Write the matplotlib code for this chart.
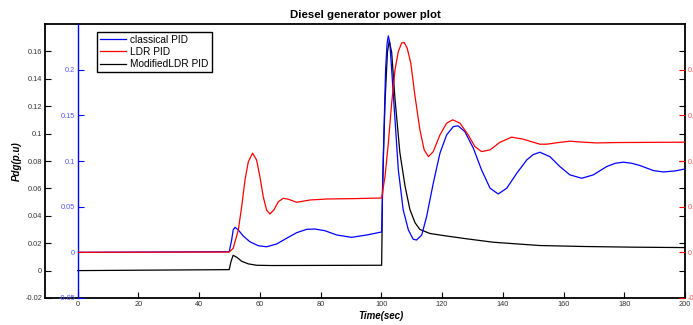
import matplotlib
matplotlib.use("Agg")
import matplotlib.pyplot as plt
from matplotlib.ticker import FuncFormatter
from matplotlib.lines import Line2D

plt.rcParams['font.family'] = ['Liberation Sans', 'DejaVu Sans']

# ---- data ----
# classical PID (blue axis)
t_classical = [0, 49.9, 50.7, 51.2, 51.8, 52.9, 54.5, 56.7, 59.5, 62.2, 65.5, 68.8, 72.1, 75.4, 78.1,
               81.4, 85.3, 90.2, 95.2, 100.1, 100.7, 101.4, 101.9, 102.3, 102.8, 103.4, 104.5, 105.6,
               107.2, 108.9, 110.5, 111.6, 113.3, 114.9, 117.1, 119.3, 121.5, 123.7, 125.3, 127.5,
               130.3, 133.0, 135.8, 138.5, 141.3, 144.6, 147.9, 150.0, 152.2, 155.5, 158.8, 162.1,
               166.0, 169.8, 174.2, 177.0, 179.7, 182.5, 185.2, 189.6, 192.9, 196.7, 200]
p_classical = [0, 0.0007, 0.0135, 0.0245, 0.0274, 0.0245, 0.0179, 0.0116, 0.0072, 0.0061, 0.0091,
               0.0154, 0.0215, 0.0252, 0.0255, 0.0237, 0.0190, 0.0164, 0.0190, 0.0223, 0.112, 0.200,
               0.229, 0.237, 0.229, 0.200, 0.145, 0.090, 0.0464, 0.0245, 0.0143, 0.0135, 0.019,
               0.039, 0.0757, 0.1086, 0.1286, 0.1377, 0.1385, 0.1322, 0.114, 0.0902, 0.0702, 0.0639,
               0.0702, 0.0866, 0.1012, 0.1070, 0.1096, 0.1048, 0.0939, 0.0848, 0.0811, 0.0848,
               0.0939, 0.0975, 0.0987, 0.0975, 0.095, 0.0895, 0.088, 0.0891, 0.0913]

# LDR PID (red axis)
t_ldr = [0, 49.9, 51.2, 52.9, 54.0, 55.1, 56.2, 57.6, 58.9, 60.0, 61.1, 62.2, 63.3, 64.6, 66.1, 67.7,
         69.4, 72.1, 76.5, 82.0, 90.8, 100.1, 101.2, 102.3, 103.4, 104.5, 105.6, 106.7, 107.5, 108.5,
         109.7, 111.1, 112.7, 114.1, 115.5, 117.1, 119.3, 121.5, 123.5, 125.9, 128.6, 130.8, 133.0,
         135.8, 139.1, 142.9, 146.7, 152.2, 154.5, 158.3, 162.1, 166.5, 170.9, 177.5, 200]
p_ldr = [0, 0.0003, 0.0044, 0.0245, 0.050, 0.0793, 0.0993, 0.1086, 0.1012, 0.0829, 0.061, 0.0464,
         0.042, 0.0464, 0.0555, 0.0592, 0.0581, 0.0548, 0.0573, 0.0584, 0.0588, 0.0595, 0.0829,
         0.1195, 0.1634, 0.200, 0.220, 0.2292, 0.2298, 0.2237, 0.2072, 0.1706, 0.1341, 0.1122,
         0.1048, 0.1103, 0.1286, 0.1414, 0.1451, 0.1414, 0.1286, 0.1158, 0.1103, 0.1122, 0.1206,
         0.1261, 0.1239, 0.1184, 0.1184, 0.1202, 0.1217, 0.1206, 0.1198, 0.1202, 0.1206]

# Modified LDR PID (black axis)
t_mod = [0, 49.9, 50.5, 51.2, 52.4, 54.0, 56.2, 58.9, 63.9, 100.1, 100.4, 101.2, 102.0, 102.6, 103.4,
         104.5, 106.1, 107.8, 109.4, 111.1, 112.7, 116.0, 120.4, 128.1, 136.9, 152.2, 166.5, 183.0, 200]
p_mod = [0, 0.0007, 0.0068, 0.0112, 0.0097, 0.0068, 0.0049, 0.0039, 0.0037, 0.0039, 0.0617, 0.1227,
         0.1593, 0.1678, 0.1593, 0.1251, 0.0861, 0.0617, 0.0446, 0.0349, 0.030, 0.0271, 0.0256,
         0.0232, 0.0207, 0.0183, 0.0176, 0.0171, 0.0168]

x_ticks = [0, 20, 40, 60, 80, 100, 120, 140, 160, 180, 200]
black_yticks = [-0.02, 0, 0.02, 0.04, 0.06, 0.08, 0.1, 0.12, 0.14, 0.16]
blue_yticks = [-0.05, 0, 0.05, 0.1, 0.15, 0.2]
red_yticks = [-0.05, 0, 0.05, 0.1, 0.15, 0.2]
series_labels = ['classical PID', 'LDR PID', 'ModifiedLDR PID']

W, H = 693, 325
fig = plt.figure(figsize=(W / 100, H / 100), dpi=100)
fig.patch.set_facecolor('white')

gfmt = FuncFormatter(lambda v, p: '%g' % round(v, 6))
TFS = 5.3

# black (main) axes
left_px, right_px, top_px, bot_px, x0_px = 45, 685, 24, 298, 77.7
ax = fig.add_axes([left_px / W, 1 - bot_px / H, (right_px - left_px) / W, (bot_px - top_px) / H])
xmin = -(x0_px - left_px) / ((right_px - x0_px) / 200.0)
ax.set_xlim(xmin, 200)
ax.set_ylim(-0.02, 0.18)
ax.plot(t_mod, p_mod, color='black', lw=0.9)
ax.set_xticks(x_ticks)
ax.set_yticks(black_yticks)
ax.xaxis.set_major_formatter(gfmt)
ax.yaxis.set_major_formatter(gfmt)
ax.tick_params(direction='in', length=4.5, width=0.8, labelsize=TFS, pad=2, colors='black',
               labelcolor='#333333', right=True, top=False)
for s in ax.spines.values():
    s.set_linewidth(1.3)

# blue axes
axb = fig.add_axes([x0_px / W, 1 - bot_px / H, (right_px - x0_px) / W, (bot_px - top_px) / H])
axb.patch.set_visible(False)
axb.set_xlim(0, 200)
axb.set_ylim(-0.05, 0.25)
axb.plot(t_classical, p_classical, color='#0000ff', lw=0.9)
for k in ['top', 'right', 'bottom']:
    axb.spines[k].set_visible(False)
axb.spines['left'].set_color('#0000ff')
axb.spines['left'].set_linewidth(1.0)
axb.set_xticks([])
axb.set_yticks(blue_yticks)
axb.yaxis.set_major_formatter(gfmt)
axb.tick_params(axis='y', direction='in', length=4.5, width=0.8, labelsize=TFS, pad=2,
                colors='#0000ff', labelcolor='#5555ff')

# red axes
axr = fig.add_axes([x0_px / W, 1 - bot_px / H, (right_px - x0_px) / W, (bot_px - top_px) / H])
axr.patch.set_visible(False)
axr.set_xlim(0, 200)
axr.set_ylim(-0.05, 0.25)
axr.plot(t_ldr, p_ldr, color='#ff0000', lw=0.9)
for k in ['top', 'left', 'bottom', 'right']:
    axr.spines[k].set_visible(False)
axr.set_xticks([])
axr.yaxis.tick_right()
axr.set_yticks(red_yticks)
axr.yaxis.set_major_formatter(gfmt)
axr.tick_params(axis='y', direction='in', length=4.5, width=0.8, labelsize=TFS, pad=2,
                colors='#ff0000', labelcolor='#ff5555')

# texts
fig.text(365 / W, 1 - 14.5 / H, 'Diesel generator power plot', ha='center', va='center',
         fontsize=8.2, fontweight='bold')
fig.text(381 / W, 1 - 316 / H, 'Time(sec)', ha='center', va='center', fontsize=7,
         fontweight='bold', fontstyle='italic')
fig.text(17 / W, 1 - 161 / H, 'Pdg(p.u)', ha='center', va='center', rotation=90, fontsize=7,
         fontweight='bold', fontstyle='italic')

handles = [Line2D([], [], color='#0000ff', lw=0.9),
           Line2D([], [], color='#ff0000', lw=0.9),
           Line2D([], [], color='black', lw=0.9)]
leg = axr.legend(handles, series_labels, loc='upper left',
                 bbox_to_anchor=(96.7 / W, 1 - 31.7 / H), bbox_transform=fig.transFigure,
                 fontsize=7.3, frameon=True, fancybox=False, framealpha=1, edgecolor='black',
                 borderpad=0.3, labelspacing=0.22, handlelength=2.6, handletextpad=0.4,
                 borderaxespad=0)
leg.get_frame().set_linewidth(1.0)

fig.savefig('out.png', dpi=100, facecolor='white')
